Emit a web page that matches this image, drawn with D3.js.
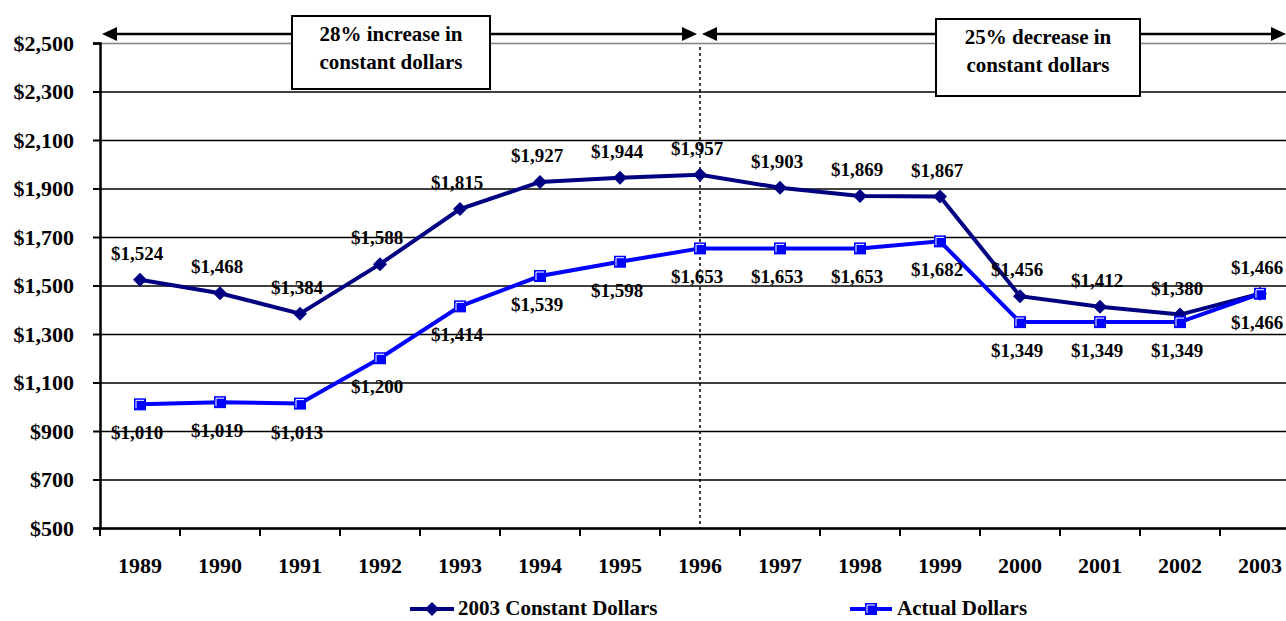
<!DOCTYPE html>
<html>
<head>
<meta charset="utf-8">
<script src="https://cdn.jsdelivr.net/npm/d3@7"></script>
<style>
  body { margin: 0; background: #fff; }
  svg, svg text { font-family: "Liberation Serif", "Times New Roman", Times, "DejaVu Serif", serif; font-weight: bold; }
</style>
</head>
<body>
<script>
const years     = ["1989","1990","1991","1992","1993","1994","1995","1996","1997","1998","1999","2000","2001","2002","2003"]
const constant  = [1524,1468,1384,1588,1815,1927,1944,1957,1903,1869,1867,1456,1412,1380,1466]
const actual    = [1010,1019,1013,1200,1414,1539,1598,1653,1653,1653,1682,1349,1349,1349,1466]
const yTicks    = [500,700,900,1100,1300,1500,1700,1900,2100,2300,2500]
const seriesNames = ["2003 Constant Dollars", "Actual Dollars"]
const notes     = [["28% increase in", "constant dollars"], ["25% decrease in", "constant dollars"]]

const width = 1286, height = 621
const fmt = d => "$" + d3.format(",")(d)

const svg = d3.select("body").append("svg")
    .attr("width", width)
    .attr("height", height)

const x = d3.scaleBand().domain(years).range([100, 1300]).paddingInner(0).paddingOuter(0)
const y = d3.scaleLinear().domain([500, 2500]).range([528, 43])
const cx = d => x(d) + x.bandwidth() / 2

// gridlines
const grid = svg.append("g")
    .attr("transform", "translate(100,0)")
    .call(d3.axisLeft(y).tickValues(yTicks).tickSize(-1200).tickFormat(""))
grid.select(".domain").remove()
grid.selectAll("line")
    .attr("stroke", d => d === 2500 ? "#808080" : "#000")
    .attr("stroke-width", 1.5)

// y axis
const yAxis = svg.append("g")
    .attr("transform", "translate(100,0)")
    .call(d3.axisLeft(y).tickValues(yTicks).tickSize(7).tickPadding(19).tickFormat(fmt))
yAxis.attr("font-family", null).attr("font-size", 22)
yAxis.select(".domain").attr("stroke", "#000").attr("stroke-width", 2.5)
yAxis.selectAll(".tick line").attr("stroke", "#000").attr("stroke-width", 2)
yAxis.selectAll("text").attr("fill", "#000")

// x axis
const xAxis = svg.append("g")
    .attr("transform", "translate(0,528)")
    .call(d3.axisBottom(x).tickSize(0).tickPadding(29))
xAxis.attr("font-family", null).attr("font-size", 22)
xAxis.select(".domain").attr("stroke", "#000").attr("stroke-width", 2.5)
xAxis.selectAll("text").attr("fill", "#000")
xAxis.selectAll(".boundary")
    .data(years)
    .enter()
    .append("line")
        .attr("x1", d => x(d))
        .attr("x2", d => x(d))
        .attr("y1", 0)
        .attr("y2", 8)
        .attr("stroke", "#000")
        .attr("stroke-width", 2)

// dotted divider at 1996
svg.append("line")
    .attr("x1", cx("1996")).attr("x2", cx("1996"))
    .attr("y1", y(2500) + 4).attr("y2", y(500))
    .attr("stroke", "#000")
    .attr("stroke-width", 1.5)
    .attr("stroke-dasharray", "3,3")

// annotation arrows
const arrowHead = (tip, yy, dir) => {
    const l = 15, h = 7
    return `M${tip},${yy} L${tip - dir * l},${yy - h} L${tip - dir * l},${yy + h} Z`
}
const ann = svg.append("g")
const spans = [
    { x0: 102, x1: cx("1996") - 3, y: 34, box: [292, 16, 198, 73] },
    { x0: cx("1996") + 2, x1: 1286, y: 34, box: [936, 19, 204, 77] }
]
spans.forEach((s, i) => {
    ann.append("line")
        .attr("x1", s.x0 + 10).attr("x2", s.x1 - 10)
        .attr("y1", s.y).attr("y2", s.y)
        .attr("stroke", "#000").attr("stroke-width", 2.5)
    ann.append("path").attr("d", arrowHead(s.x0, s.y, -1)).attr("fill", "#000")
    ann.append("path").attr("d", arrowHead(s.x1, s.y, 1)).attr("fill", "#000")
    ann.append("rect")
        .attr("x", s.box[0]).attr("y", s.box[1])
        .attr("width", s.box[2]).attr("height", s.box[3])
        .attr("fill", "#fff").attr("stroke", "#000").attr("stroke-width", 2)
    ann.selectAll(null)
        .data(notes[i])
        .enter()
        .append("text")
            .attr("x", s.box[0] + s.box[2] / 2)
            .attr("y", (d, j) => s.box[1] + 25 + j * 28)
            .attr("text-anchor", "middle")
            .attr("font-size", 21)
            .text(d => d)
})

// lines
const line = d3.line().x(d => cx(d.year)).y(d => y(d.v))
const constData = years.map((yr, i) => ({ year: yr, v: constant[i] }))
const actData   = years.map((yr, i) => ({ year: yr, v: actual[i] }))

const diamond = (px, py, r) => `M${px},${py - r} L${px + r},${py} L${px},${py + r} L${px - r},${py} Z`

svg.append("path")
    .datum(constData)
    .attr("d", line)
    .attr("fill", "none")
    .attr("stroke", "#000080")
    .attr("stroke-width", 4)

svg.append("g")
    .selectAll("path")
    .data(constData)
    .enter()
    .append("path")
        .attr("d", d => diamond(cx(d.year), y(d.v), 7))
        .attr("fill", "#000080")

svg.append("path")
    .datum(actData)
    .attr("d", line)
    .attr("fill", "none")
    .attr("stroke", "#0000ff")
    .attr("stroke-width", 4)

const sq = svg.append("g")
    .selectAll("g")
    .data(actData)
    .enter()
    .append("g")
        .attr("transform", d => `translate(${cx(d.year)},${y(d.v)})`)
sq.append("rect")
    .attr("x", -6).attr("y", -6).attr("width", 12).attr("height", 12)
    .attr("fill", "#0000ff")
sq.append("path")
    .attr("d", "M-4,4 V-4 H4")
    .attr("fill", "none")
    .attr("stroke", "#fff")
    .attr("stroke-width", 1)

// data labels
svg.append("g")
    .selectAll("text")
    .data(constData)
    .enter()
    .append("text")
        .attr("x", d => cx(d.year) - 3)
        .attr("y", d => y(d.v) - 20)
        .attr("text-anchor", "middle")
        .attr("font-size", 19)
        .text(d => fmt(d.v))

svg.append("g")
    .selectAll("text")
    .data(actData)
    .enter()
    .append("text")
        .attr("x", d => cx(d.year) - 3)
        .attr("y", d => y(d.v) + 35)
        .attr("text-anchor", "middle")
        .attr("font-size", 19)
        .text(d => fmt(d.v))

// legend
const legend = svg.append("g")
const items = [
    { name: seriesNames[0], color: "#000080", x0: 410, x1: 454, tx: 458, mark: "diamond" },
    { name: seriesNames[1], color: "#0000ff", x0: 850, x1: 892, tx: 897, mark: "square" }
]
items.forEach(it => {
    const mid = (it.x0 + it.x1) / 2
    legend.append("line")
        .attr("x1", it.x0).attr("x2", it.x1)
        .attr("y1", 609).attr("y2", 609)
        .attr("stroke", it.color).attr("stroke-width", 4)
    if (it.mark === "diamond") {
        legend.append("path").attr("d", diamond(mid, 609, 7)).attr("fill", it.color)
    } else {
        legend.append("rect").attr("x", mid - 6).attr("y", 603).attr("width", 12).attr("height", 12).attr("fill", it.color)
        legend.append("path").attr("d", `M${mid - 4},${613} V${605} H${mid + 4}`).attr("fill", "none").attr("stroke", "#fff")
    }
    legend.append("text")
        .attr("x", it.tx).attr("y", 615)
        .attr("font-size", 21)
        .text(it.name)
})
</script>
</body>
</html>
